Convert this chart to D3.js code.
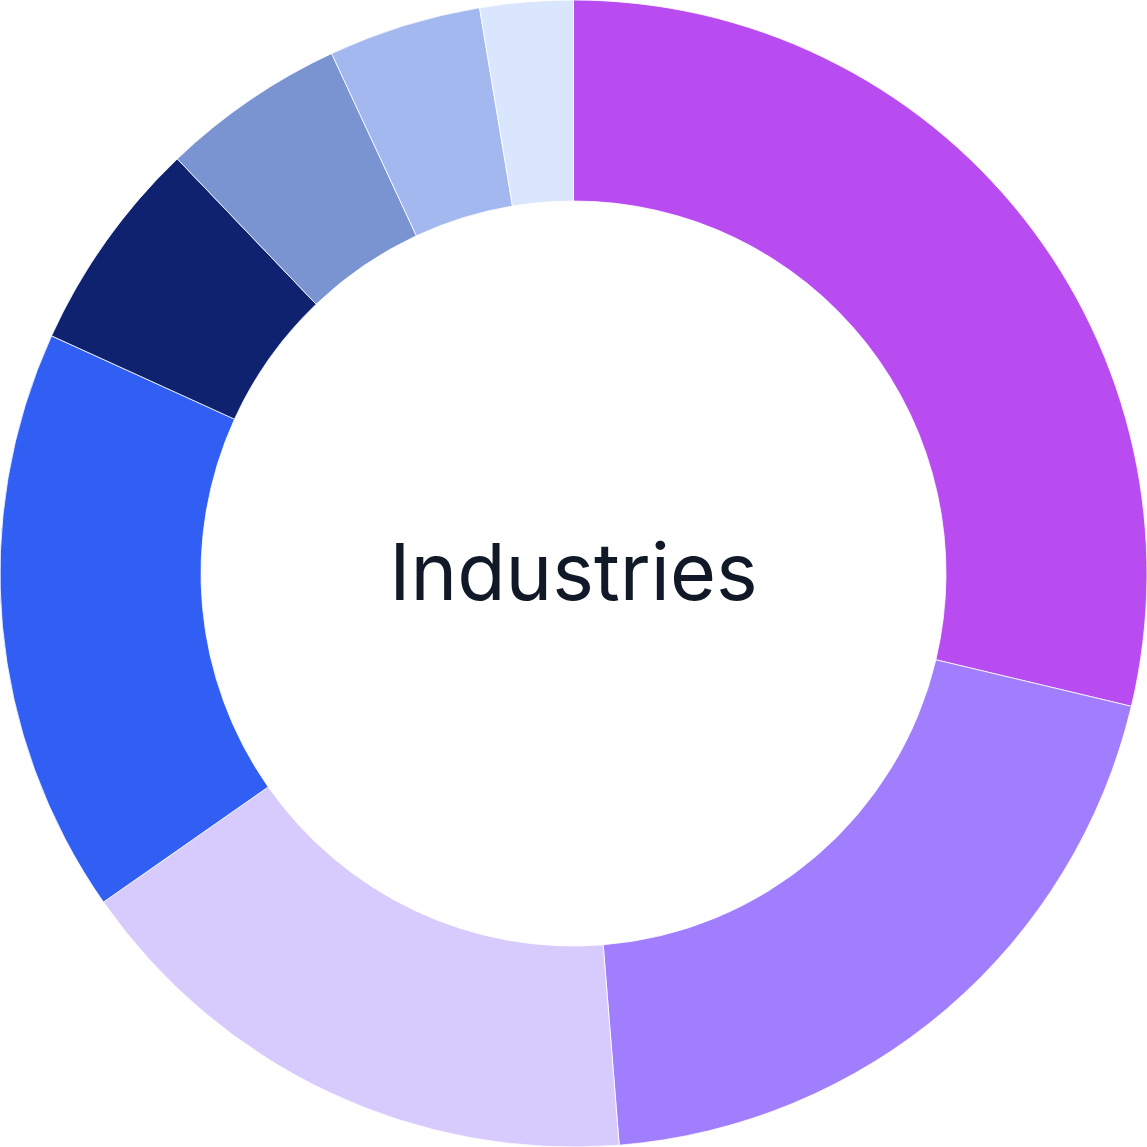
<!DOCTYPE html>
<html>
<head>
<meta charset="utf-8">
<script src="https://cdn.jsdelivr.net/npm/d3@7"></script>
<style>
	html, body {margin: 0; padding: 0; background: #ffffff;}
	svg {display: block;}
</style>
</head>
<body>
<div id="app"></div>
<script>
// Donut of industry shares.
var industries = ["Technology", "Finance", "Healthcare", "Retail", "Manufacturing", "Energy", "Education", "Other"];
var shares = [28.72, 20.01, 16.56, 16.51, 6.06, 5.21, 4.31, 2.62];
var sliceColors = ["#b84cf1", "#a07efd", "#d7cbfd", "#315ef3", "#0e226f", "#7a93d1", "#a2b8ee", "#dae5fe"];
var centerLabel = "Industries";

var width = 1147, height = 1147;
var outerR = 573.5, innerR = 372.5;

var svg = d3.select("#app")
	.append("svg")
	.attr("width", width)
	.attr("height", height);

var g = svg.append("g")
	.attr("transform", "translate(" + width/2 + "," + height/2 + ")");

var color = d3.scaleOrdinal().domain(industries).range(sliceColors);

var pie = d3.pie()
	.value(function (d, i) {return shares[i];})
	.sort(null);

var arc = d3.arc()
	.innerRadius(innerR)
	.outerRadius(outerR);

g.selectAll("path")
	.data(pie(industries))
	.enter().append("path")
	.attr("d", arc)
	.attr("fill", function (d) {return color(d.data);})
	.attr("stroke", "#ffffff")
	.attr("stroke-width", 0.8);

g.append("text")
	.attr("x", 0).attr("y", 0)
	.attr("dy", "0.34em")
	.attr("text-anchor", "middle")
	.attr("fill", "#111827")
	.style("font", "79px Inter, 'Noto Sans', sans-serif")
	.text(centerLabel);
</script>
</body>
</html>
